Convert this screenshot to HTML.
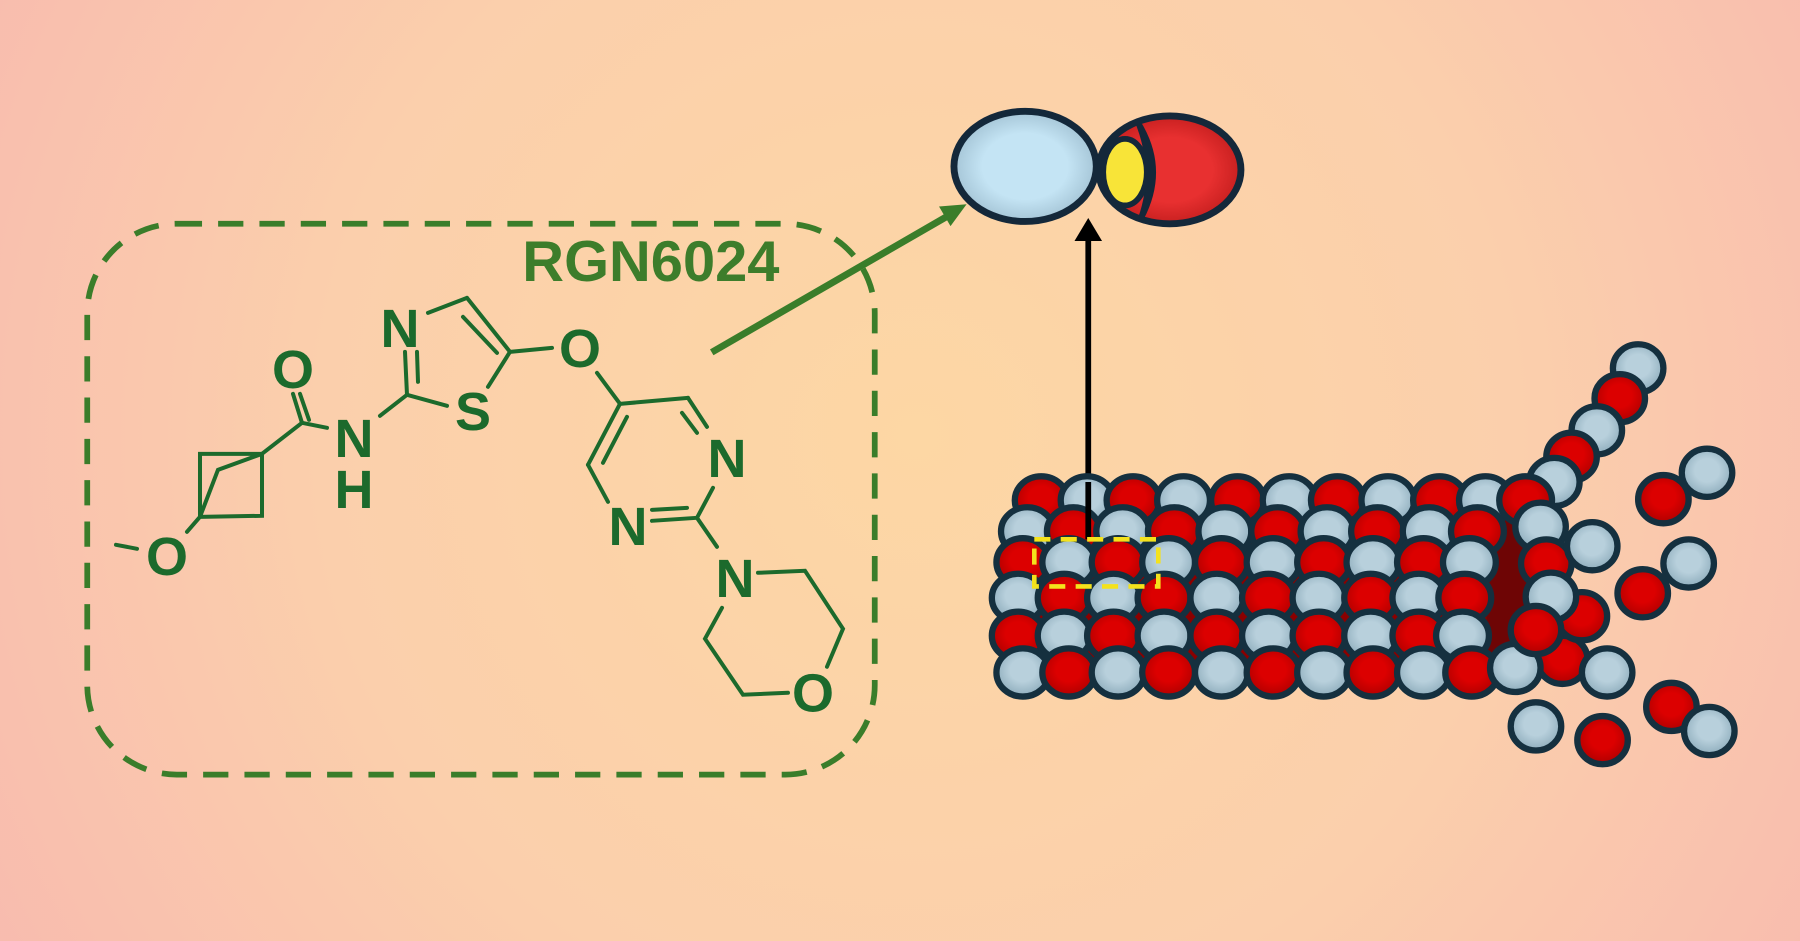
<!DOCTYPE html>
<html><head><meta charset="utf-8"><style>
html,body{margin:0;padding:0;width:1800px;height:941px;overflow:hidden}
svg{display:block}
</style></head><body>
<svg width="1800" height="941" viewBox="0 0 1568 820" preserveAspectRatio="none" xmlns="http://www.w3.org/2000/svg">
<defs>
<radialGradient id="bg" cx="800" cy="380" r="950" gradientUnits="userSpaceOnUse">
<stop offset="0" stop-color="#fdd7a4"/><stop offset="0.55" stop-color="#fbcfac"/><stop offset="1" stop-color="#f8baaf"/>
</radialGradient>
<radialGradient id="g" cx="0.5" cy="0.45" r="0.6"><stop offset="0.4" stop-color="#b8d0dc"/><stop offset="1" stop-color="#86a6b6"/></radialGradient>
<radialGradient id="r" cx="0.5" cy="0.45" r="0.6"><stop offset="0.4" stop-color="#dc0000"/><stop offset="1" stop-color="#a80000"/></radialGradient>
<radialGradient id="gd" cx="0.5" cy="0.5" r="0.6"><stop offset="0.5" stop-color="#c4e4f4"/><stop offset="1" stop-color="#96b6c8"/></radialGradient>
<radialGradient id="rd" cx="0.5" cy="0.5" r="0.6"><stop offset="0.5" stop-color="#e83030"/><stop offset="1" stop-color="#b81818"/></radialGradient>
</defs>
<rect width="1568" height="820" fill="url(#bg)"/>

<rect x="76" y="195" width="686" height="480" rx="78" fill="none" stroke="#3a7d2a" stroke-width="5" stroke-dasharray="22 14"/>
<text x="455" y="245" font-family="Liberation Sans, sans-serif" font-weight="bold" font-size="50" fill="#3d7d2b" textLength="224" lengthAdjust="spacingAndGlyphs">RGN6024</text>

<line x1="620" y1="307" x2="826" y2="188" stroke="#3a7d2a" stroke-width="6"/>
<polygon points="842,178 818,180 828,197" fill="#3a7d2a"/>

<g transform="scale(0.8711)" stroke="#1c6a2c" stroke-width="4" fill="none" stroke-linecap="round">
<line x1="116" y1="545" x2="137" y2="549"/>
<line x1="187" y1="532" x2="200" y2="517"/>
<polyline points="200,517 262,516 262,454 200,454 200,517 218,470 262,454"/>
<line x1="262" y1="454" x2="302" y2="423"/>
<line x1="302" y1="423" x2="293" y2="394"/>
<line x1="309" y1="420" x2="300" y2="394"/>
<line x1="302" y1="423" x2="327" y2="428"/>
<line x1="380" y1="416" x2="407" y2="395"/>
<line x1="407" y1="395" x2="405" y2="352"/>
<line x1="418" y1="382" x2="417" y2="352"/>
<line x1="428" y1="313" x2="467" y2="298"/>
<line x1="467" y1="298" x2="510" y2="352"/>
<line x1="463" y1="317" x2="497" y2="353"/>
<line x1="510" y1="352" x2="488" y2="387"/>
<line x1="447" y1="406" x2="407" y2="395"/>
<line x1="510" y1="352" x2="552" y2="348"/>
<line x1="597" y1="373" x2="620" y2="404"/>
<line x1="620" y1="404" x2="688" y2="398"/>
<line x1="688" y1="398" x2="707" y2="427"/>
<line x1="682" y1="413" x2="697" y2="433"/>
<line x1="713" y1="488" x2="697" y2="518"/>
<line x1="697" y1="518" x2="652" y2="521"/>
<line x1="687" y1="508" x2="652" y2="510"/>
<line x1="608" y1="502" x2="588" y2="465"/>
<line x1="588" y1="465" x2="620" y2="404"/>
<line x1="603" y1="463" x2="627" y2="417"/>
<line x1="697" y1="518" x2="717" y2="547"/>
<polyline points="758,573 805,571 843,629 827,667"/>
<polyline points="722,608 705,639 743,695 788,693"/>
<g fill="#1c6a2c" stroke="none" font-family="Liberation Sans, sans-serif" font-weight="bold" font-size="54" text-anchor="middle">
<text x="167" y="575">O</text>
<text x="293" y="388">O</text>
<text x="354" y="457">N</text>
<text x="354" y="508">H</text>
<text x="400" y="347">N</text>
<text x="473" y="430">S</text>
<text x="580" y="367">O</text>
<text x="727" y="477">N</text>
<text x="628" y="545">N</text>
<text x="735" y="597">N</text>
<text x="813" y="712">O</text>
</g>
</g>

<ellipse cx="893" cy="145" rx="62" ry="48" fill="url(#gd)" stroke="#14283a" stroke-width="6"/>
<ellipse cx="1019" cy="148" rx="62" ry="47" fill="url(#rd)" stroke="#14283a" stroke-width="6"/>
<path d="M992,108 Q1016,148 994,190 Q1008,150 992,108 Z" fill="#14283a" stroke="#14283a" stroke-width="5"/>
<ellipse cx="980" cy="150" rx="19" ry="29" fill="#f8e438" stroke="#14283a" stroke-width="5"/>

<line x1="948" y1="470" x2="948" y2="205" stroke="#000" stroke-width="5"/>
<polygon points="948,190 936,210 960,210" fill="#000"/>

<g stroke="#15303f" stroke-width="5.5">
<rect x="905" y="450" width="420" height="140" fill="#8a0000" stroke="none"/>
<polygon points="1295,455 1330,440 1335,585 1295,590" fill="#6e0505" stroke="none"/>
<g>
<ellipse cx="907" cy="436" rx="23" ry="21" fill="url(#r)"/>
<ellipse cx="947" cy="436" rx="23" ry="21" fill="url(#g)"/>
<ellipse cx="987" cy="436" rx="23" ry="21" fill="url(#r)"/>
<ellipse cx="1031" cy="436" rx="23" ry="21" fill="url(#g)"/>
<ellipse cx="1078" cy="436" rx="23" ry="21" fill="url(#r)"/>
<ellipse cx="1123" cy="436" rx="23" ry="21" fill="url(#g)"/>
<ellipse cx="1165" cy="436" rx="23" ry="21" fill="url(#r)"/>
<ellipse cx="1209" cy="436" rx="23" ry="21" fill="url(#g)"/>
<ellipse cx="1254" cy="436" rx="23" ry="21" fill="url(#r)"/>
<ellipse cx="1294" cy="436" rx="23" ry="21" fill="url(#g)"/>
</g>
<ellipse cx="1427" cy="321" rx="22" ry="21" fill="url(#g)"/>
<ellipse cx="1411" cy="347" rx="22" ry="21" fill="url(#r)"/>
<ellipse cx="1391" cy="375" rx="22" ry="21" fill="url(#g)"/>
<ellipse cx="1369" cy="398" rx="22" ry="21" fill="url(#r)"/>
<ellipse cx="1354" cy="420" rx="22" ry="21" fill="url(#g)"/>
<ellipse cx="1329" cy="436" rx="23" ry="21" fill="url(#r)"/>
<ellipse cx="895" cy="463" rx="23" ry="21" fill="url(#g)"/>
<ellipse cx="935" cy="463" rx="23" ry="21" fill="url(#r)"/>
<ellipse cx="978" cy="463" rx="23" ry="21" fill="url(#g)"/>
<ellipse cx="1023" cy="463" rx="23" ry="21" fill="url(#r)"/>
<ellipse cx="1067" cy="463" rx="23" ry="21" fill="url(#g)"/>
<ellipse cx="1113" cy="463" rx="23" ry="21" fill="url(#r)"/>
<ellipse cx="1156" cy="463" rx="23" ry="21" fill="url(#g)"/>
<ellipse cx="1200" cy="463" rx="23" ry="21" fill="url(#r)"/>
<ellipse cx="1245" cy="463" rx="23" ry="21" fill="url(#g)"/>
<ellipse cx="1287" cy="463" rx="23" ry="21" fill="url(#r)"/>
<ellipse cx="891" cy="490" rx="23" ry="21" fill="url(#r)"/>
<ellipse cx="931" cy="490" rx="23" ry="21" fill="url(#g)"/>
<ellipse cx="974" cy="490" rx="23" ry="21" fill="url(#r)"/>
<ellipse cx="1018" cy="490" rx="23" ry="21" fill="url(#g)"/>
<ellipse cx="1064" cy="490" rx="23" ry="21" fill="url(#r)"/>
<ellipse cx="1109" cy="490" rx="23" ry="21" fill="url(#g)"/>
<ellipse cx="1153" cy="490" rx="23" ry="21" fill="url(#r)"/>
<ellipse cx="1196" cy="490" rx="23" ry="21" fill="url(#g)"/>
<ellipse cx="1240" cy="490" rx="23" ry="21" fill="url(#r)"/>
<ellipse cx="1280" cy="490" rx="23" ry="21" fill="url(#g)"/>
<ellipse cx="887" cy="521" rx="23" ry="21" fill="url(#g)"/>
<ellipse cx="927" cy="521" rx="23" ry="21" fill="url(#r)"/>
<ellipse cx="970" cy="521" rx="23" ry="21" fill="url(#g)"/>
<ellipse cx="1014" cy="521" rx="23" ry="21" fill="url(#r)"/>
<ellipse cx="1060" cy="521" rx="23" ry="21" fill="url(#g)"/>
<ellipse cx="1105" cy="521" rx="23" ry="21" fill="url(#r)"/>
<ellipse cx="1149" cy="521" rx="23" ry="21" fill="url(#g)"/>
<ellipse cx="1194" cy="521" rx="23" ry="21" fill="url(#r)"/>
<ellipse cx="1236" cy="521" rx="23" ry="21" fill="url(#g)"/>
<ellipse cx="1276" cy="521" rx="23" ry="21" fill="url(#r)"/>
<ellipse cx="887" cy="554" rx="23" ry="21" fill="url(#r)"/>
<ellipse cx="927" cy="554" rx="23" ry="21" fill="url(#g)"/>
<ellipse cx="970" cy="554" rx="23" ry="21" fill="url(#r)"/>
<ellipse cx="1014" cy="554" rx="23" ry="21" fill="url(#g)"/>
<ellipse cx="1060" cy="554" rx="23" ry="21" fill="url(#r)"/>
<ellipse cx="1105" cy="554" rx="23" ry="21" fill="url(#g)"/>
<ellipse cx="1149" cy="554" rx="23" ry="21" fill="url(#r)"/>
<ellipse cx="1194" cy="554" rx="23" ry="21" fill="url(#g)"/>
<ellipse cx="1236" cy="554" rx="23" ry="21" fill="url(#r)"/>
<ellipse cx="1274" cy="554" rx="23" ry="21" fill="url(#g)"/>
<ellipse cx="891" cy="586" rx="23" ry="21" fill="url(#g)"/>
<ellipse cx="931" cy="586" rx="23" ry="21" fill="url(#r)"/>
<ellipse cx="974" cy="586" rx="23" ry="21" fill="url(#g)"/>
<ellipse cx="1018" cy="586" rx="23" ry="21" fill="url(#r)"/>
<ellipse cx="1064" cy="586" rx="23" ry="21" fill="url(#g)"/>
<ellipse cx="1109" cy="586" rx="23" ry="21" fill="url(#r)"/>
<ellipse cx="1153" cy="586" rx="23" ry="21" fill="url(#g)"/>
<ellipse cx="1196" cy="586" rx="23" ry="21" fill="url(#r)"/>
<ellipse cx="1240" cy="586" rx="23" ry="21" fill="url(#g)"/>
<ellipse cx="1282" cy="586" rx="23" ry="21" fill="url(#r)"/>
<ellipse cx="1361" cy="575" rx="22" ry="21" fill="url(#r)"/>
<ellipse cx="1378" cy="537" rx="22" ry="21" fill="url(#r)"/>
<ellipse cx="1320" cy="582" rx="22" ry="21" fill="url(#g)"/>
<ellipse cx="1342" cy="459" rx="22" ry="21" fill="url(#g)"/>
<ellipse cx="1347" cy="491" rx="22" ry="21" fill="url(#r)"/>
<ellipse cx="1351" cy="520" rx="22" ry="21" fill="url(#g)"/>
<ellipse cx="1338" cy="549" rx="22" ry="21" fill="url(#r)"/>
<ellipse cx="1387" cy="476" rx="22" ry="21" fill="url(#g)"/>
<ellipse cx="1449" cy="435" rx="22" ry="21" fill="url(#r)"/>
<ellipse cx="1487" cy="412" rx="22" ry="21" fill="url(#g)"/>
<ellipse cx="1431" cy="517" rx="22" ry="21" fill="url(#r)"/>
<ellipse cx="1471" cy="491" rx="22" ry="21" fill="url(#g)"/>
<ellipse cx="1400" cy="586" rx="22" ry="21" fill="url(#g)"/>
<ellipse cx="1456" cy="616" rx="22" ry="21" fill="url(#r)"/>
<ellipse cx="1489" cy="637" rx="22" ry="21" fill="url(#g)"/>
<ellipse cx="1338" cy="633" rx="22" ry="21" fill="url(#g)"/>
<ellipse cx="1396" cy="645" rx="22" ry="21" fill="url(#r)"/>
</g>
<line x1="948" y1="470" x2="948" y2="420" stroke="#000" stroke-width="5"/>
<rect x="901" y="470" width="108" height="41" fill="none" stroke="#f4e21c" stroke-width="4" stroke-dasharray="14 9"/>
</svg>
</body></html>
